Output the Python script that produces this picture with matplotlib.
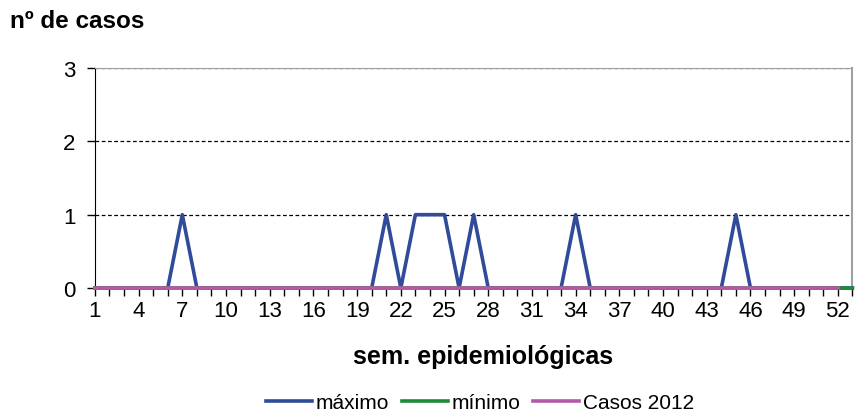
import matplotlib
matplotlib.use("Agg")
import matplotlib.pyplot as plt

plt.rcParams['font.family'] = ['Liberation Sans', 'DejaVu Sans']

semanas = list(range(1, 54))
maximo = [0, 0, 0, 0, 0, 0, 1, 0, 0, 0,
          0, 0, 0, 0, 0, 0, 0, 0, 0, 0,
          1, 0, 1, 1, 1, 0, 1, 0, 0, 0,
          0, 0, 0, 1, 0, 0, 0, 0, 0, 0,
          0, 0, 0, 0, 1, 0, 0, 0, 0, 0,
          0, 0, 0]
minimo = [0] * 53
casos_2012 = [0] * 52
tick_labels = list(range(1, 53, 3))

fig = plt.figure(figsize=(8.55, 4.14), dpi=100)
ax = fig.add_axes([0.111, 0.302, 0.886, 0.531])

ax.plot(semanas, maximo, color='#2f4b9a', lw=2.6, label='máximo', clip_on=False, zorder=3)
ax.plot(semanas, minimo, color='#1f8a3a', lw=2.6, label='mínimo', clip_on=False, zorder=4)
ax.plot(semanas[:52], casos_2012, color='#b25aa5', lw=2.6, label='Casos 2012', clip_on=False, zorder=5)

ax.set_xlim(1, 53)
ax.set_ylim(0, 3)
ax.set_yticks([0, 1, 2, 3])
ax.set_xticks(semanas, minor=True)
ax.set_xticks(tick_labels)
ax.tick_params(axis='x', which='both', direction='out', length=6, width=1, labelsize=16, pad=3)
ax.tick_params(axis='y', direction='out', length=6, width=1, labelsize=16, pad=8)

for y in [1, 2, 3]:
    ax.axhline(y, color='black', lw=0.9, ls=(0, (3, 2)), zorder=2)

ax.spines['left'].set_color('black')
ax.spines['bottom'].set_color('black')
ax.spines['top'].set_color('#a0a0a0')
ax.spines['right'].set_color('#a0a0a0')
ax.spines['right'].set_linewidth(1.5)

fig.text(0.012, 0.947, 'nº de casos', fontsize=17.5, fontweight='bold', ha='left', va='center')
fig.text(483 / 855, 1 - 357 / 414, 'sem. epidemiológicas', fontsize=18, fontweight='bold',
         ha='center', va='center')

fig.legend(*ax.get_legend_handles_labels(), loc='center', bbox_to_anchor=(480 / 855, 1 - 404 / 414),
           ncol=3, frameon=False, fontsize=15, handlelength=2.2, columnspacing=0.6,
           handletextpad=0.2, borderpad=0)

fig.savefig('out.png', dpi=100)
